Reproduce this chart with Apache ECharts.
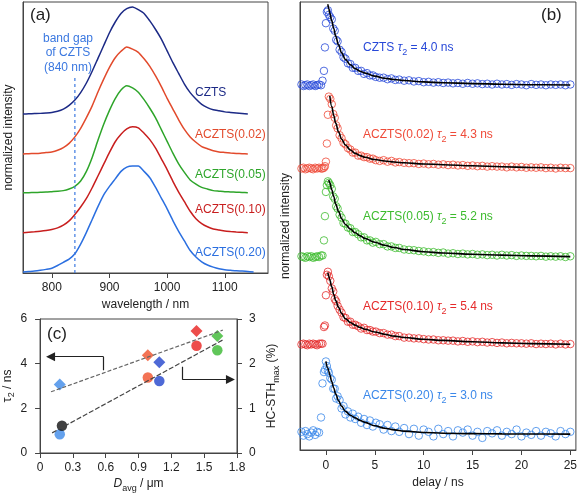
<!DOCTYPE html>
<html><head><meta charset="utf-8">
<script src="https://cdn.jsdelivr.net/npm/echarts@6/dist/echarts.min.js"></script>
<style>html,body{margin:0;padding:0;background:#fff}#c{width:580px;height:494px}</style>
</head><body><div id="c"></div>
<script>
// ================= DATA =================
// Panel (a): PL spectra (normalized)
const wavelengths = [750,760,770,780,790,800,810,820,830,840,850,860,870,880,890,900,910,920,930,940,950,960,970,980,990,1000,1010,1020,1030,1040,1050,1060,1070,1080,1090,1100,1110,1120,1130,1140,1150];
const plCZTS = [0,0.002,0.004,0.006,0.01,0.015,0.025,0.045,0.08,0.13,0.20,0.29,0.40,0.52,0.64,0.76,0.86,0.94,0.985,1.00,0.975,0.94,0.87,0.79,0.70,0.59,0.48,0.38,0.28,0.20,0.14,0.09,0.06,0.04,0.03,0.02,0.015,0.01,0.005,0,null];
const plA002 = [0,0.003,0.005,0.008,0.014,0.02,0.035,0.06,0.10,0.16,0.24,0.34,0.45,0.58,0.70,0.81,0.90,0.96,1.00,0.98,0.95,0.89,0.82,0.73,0.63,0.52,0.42,0.32,0.23,0.16,0.11,0.07,0.05,0.03,0.02,0.015,0.01,0.006,0.003,0,null];
const plA005 = [0,0.001,0.002,0.004,0.006,0.01,0.014,0.02,0.035,0.06,0.11,0.20,0.33,0.49,0.64,0.77,0.88,0.96,1.00,0.98,0.94,0.87,0.79,0.70,0.59,0.48,0.37,0.27,0.19,0.12,0.08,0.05,0.035,0.02,0.015,0.01,0.008,0.005,0.003,0,null];
const plA010 = [0,0.004,0.008,0.013,0.02,0.03,0.045,0.07,0.11,0.17,0.24,0.32,0.42,0.53,0.64,0.75,0.85,0.92,0.97,0.99,0.98,0.93,0.87,0.79,0.69,0.59,0.48,0.38,0.29,0.20,0.13,0.085,0.055,0.035,0.025,0.015,0.01,0.006,0.003,0,null];
const plA020 = [0,0.004,0.008,0.015,0.024,0.035,0.06,0.09,0.12,0.17,0.26,0.37,0.49,0.61,0.72,0.80,0.87,0.94,0.98,0.99,0.99,0.94,0.88,0.79,0.69,0.59,0.48,0.38,0.29,0.20,0.14,0.095,0.065,0.045,0.03,0.02,0.015,0.01,0.008,0.005,0];
const sampleNames = ['CZTS','ACZTS(0.02)','ACZTS(0.05)','ACZTS(0.10)','ACZTS(0.20)'];
const wavelengthTicks = [800,900,1000,1100];
const bandGapNm = 840;
const bandGapTop = 1.825;

// Panel (b): TRMC decays (normalized)
const delayTimes = [-2.5,-2.3,-2.1,-1.9,-1.7,-1.5,-1.3,-1.1,-0.9,-0.7,-0.5,
 -0.35,-0.2,-0.1,0,0.1,0.2,0.3,
 0.45,0.6,0.75,0.9,1.05,1.2,
 1.4,1.6,1.8,2.0,
 2.25,2.5,2.75,3.0,
 3.3,3.6,3.9,4.2,4.5,4.8,5.1,
 5.5,5.9,6.3,6.7,7.1,7.5,
 8,8.5,9,9.5,10,10.5,11,11.5,12,12.5,13,13.5,14,14.5,15,15.5,16,16.5,17,17.5,18,18.5,19,19.5,20,20.5,21,21.5,22,22.5,23,23.5,24,24.5,25];
const trCZTS = [0.01,-0.01,0.0,0.01,-0.01,0.0,0.01,-0.01,0.0,0.01,0.0,
 0.06,0.19,0.5,0.82,0.97,0.99,0.93,
 0.9,0.87,0.75,0.72,0.6,0.58,
 0.47,0.44,0.37,0.35,
 0.29,0.28,0.23,0.23,
 0.19,0.19,0.15,0.16,0.13,0.13,0.11,
 0.1,0.1,0.08,0.09,0.07,0.075,
 0.06,0.065,0.05,0.055,0.04,0.045,0.035,0.04,0.03,0.035,0.025,0.03,0.02,0.03,0.02,0.025,0.015,0.02,0.01,0.02,0.01,0.015,0.005,0.015,0.01,0.0,0.015,0.005,0.01,0.0,0.01,0.005,0.01,0.0,0.01];
const trA002 = [0.0,0.01,-0.01,0.0,0.01,0.0,-0.01,0.01,0.0,0.01,0.0,
 0.0,0.01,0.03,0.09,0.33,0.71,0.95,
 0.92,0.85,0.72,0.67,0.57,0.53,
 0.44,0.4,0.34,0.32,
 0.27,0.25,0.21,0.21,
 0.17,0.17,0.15,0.15,0.13,0.13,0.11,
 0.1,0.11,0.09,0.1,0.08,0.085,
 0.075,0.07,0.07,0.06,0.065,0.055,0.06,0.05,0.055,0.045,0.05,0.04,0.045,0.035,0.04,0.03,0.035,0.025,0.03,0.025,0.025,0.015,0.025,0.015,0.02,0.01,0.015,0.01,0.015,0.005,0.01,0.0,0.01,0.005,0.005];
const trA005 = [0.01,0.0,-0.01,0.01,0.0,0.01,-0.01,0.0,0.01,0.0,0.02,
 0.02,0.22,0.54,0.86,0.95,1.0,0.98,
 0.95,0.9,0.8,0.77,0.67,0.64,
 0.56,0.52,0.45,0.44,
 0.39,0.38,0.33,0.33,
 0.3,0.26,0.26,0.22,0.22,0.19,0.2,
 0.17,0.17,0.14,0.14,0.12,0.12,
 0.1,0.095,0.09,0.08,0.075,0.065,0.065,0.055,0.06,0.045,0.05,0.04,0.045,0.035,0.04,0.03,0.035,0.025,0.03,0.02,0.03,0.02,0.025,0.015,0.02,0.015,0.015,0.01,0.015,0.005,0.01,0.005,0.01,0.0,0.01];
const trA010 = [0.0,0.01,0.0,-0.01,0.01,0.0,0.01,0.0,-0.01,0.01,0.01,
 0.01,0.23,0.25,0.65,0.92,0.96,0.9,
 0.84,0.74,0.7,0.6,0.57,0.51,
 0.46,0.42,0.36,0.35,
 0.3,0.3,0.26,0.26,
 0.24,0.21,0.22,0.19,0.19,0.17,0.17,
 0.15,0.15,0.13,0.13,0.11,0.11,
 0.09,0.09,0.08,0.08,0.07,0.065,0.065,0.055,0.055,0.05,0.05,0.04,0.045,0.035,0.04,0.03,0.035,0.025,0.03,0.02,0.025,0.015,0.02,0.015,0.015,0.01,0.015,0.005,0.01,0.005,0.01,0.0,0.01,0.0,0.005];
const trA020 = [0.03,-0.02,0.04,0.0,-0.03,0.02,0.05,-0.01,0.03,0.02,0.22,
 0.67,0.82,0.85,0.96,0.9,0.84,0.81,
 0.74,0.72,0.6,0.6,0.47,0.5,
 0.45,0.34,0.37,0.26,
 0.3,0.22,0.27,0.2,
 0.23,0.15,0.2,0.12,0.18,0.1,0.15,
 0.13,0.06,0.12,0.04,0.1,0.03,
 0.08,0.0,0.07,-0.02,0.06,0.03,-0.03,0.07,0.0,0.04,-0.03,0.05,0.02,0.06,-0.02,0.03,-0.05,0.04,0.01,0.05,-0.02,0.03,0.0,0.06,-0.03,0.02,-0.01,0.04,-0.02,0.03,0.01,-0.03,0.04,0.0,0.03];
const fitTimes = [0,0.2,0.3,0.4,0.6,0.8,1.0,1.3,1.6,2.0,2.5,3.0,3.5,4,5,6,7,8,10,12,15,18,21,25];
const fitCZTS = [null,1.07,1.01,0.95,0.85,0.75,0.65,0.53,0.43,0.34,0.27,0.22,0.185,0.16,0.12,0.093,0.075,0.062,0.044,0.033,0.022,0.013,0.007,0.003];
const fitA002 = [null,null,null,0.96,0.82,0.70,0.60,0.48,0.39,0.31,0.245,0.2,0.17,0.148,0.118,0.098,0.085,0.075,0.06,0.05,0.036,0.023,0.013,0.004];
const fitA005 = [null,null,1.02,0.98,0.89,0.8,0.7,0.6,0.51,0.43,0.37,0.32,0.28,0.245,0.195,0.155,0.125,0.1,0.07,0.053,0.037,0.025,0.015,0.005];
const fitA010 = [null,0.95,0.9,0.85,0.76,0.66,0.58,0.49,0.41,0.34,0.29,0.255,0.225,0.2,0.165,0.135,0.11,0.092,0.068,0.053,0.035,0.021,0.011,0.003];
const fitA020 = [0.96,0.87,0.83,0.78,0.69,0.61,0.53,0.44,0.37,0.3,0.25,0.215,0.18,0.155,0.11,0.078,0.056,0.04,0.022,0.012,0.006,0.003,0.001,0];
const tau2Text = ['4.0','4.3','5.2','5.4','3.0'];
const delayTicks = [0,5,10,15,20,25];

// Panel (c)
const dAvgTau = [0.18,0.985,1.09,1.43,1.62];
const tau2Vals = [3.07,4.38,4.06,5.46,5.24];
const dAvgHC = [0.18,0.20,0.985,1.09,1.43,1.62];
const hcSthVals = [0.42,0.61,1.69,1.61,2.40,2.30];
const tauFitLine = [[0.10,2.74],[1.67,5.5]];
const hcFitLine = [[0.11,0.45],[1.67,2.53]];
const arrowLeft = [[0.58,3.71],[0.58,4.31],[0.096,4.31]];
const arrowRight = [[1.30,3.86],[1.30,3.29],[1.74,3.29]];

// ================= STYLE / LAYOUT =================
const FONT = "'Liberation Sans', Arial, sans-serif";
const AX = '#444', TXT = '#222';
const specColors = ['#1c2a86','#e24a2c','#2ea52a','#c81e1e','#2b6fe0'];
const specOffsets = [1.486,1.112,0.75,0.377,0.01];
const specLabelY = [93,135,175,210,253];
const trColors = ['#2748d8','#ef4a38','#3dbb2e','#e52a2a','#3b88ea'];
const trOffsets = [4.82,3.72,2.55,1.395,0.21];
const trLabelY = [48,135,217,307,396];
const tauColors = ['#3d8ae8','#f0502a','#2244cc','#e8201e','#38b830'];
const hcColors = ['#3d8ae8','#111111','#f0502a','#2244cc','#e8201e','#38b830'];

const specData = [plCZTS,plA002,plA005,plA010,plA020];
const trData = [trCZTS,trA002,trA005,trA010,trA020];
const fitData = [fitCZTS,fitA002,fitA005,fitA010,fitA020];

const series = [];
specData.forEach((arr,i)=>{
  const d=[]; wavelengths.forEach((w,j)=>{ if(arr[j]!==null) d.push([w,arr[j]+specOffsets[i]]); });
  series.push({type:'line',xAxisIndex:0,yAxisIndex:0,showSymbol:false,smooth:0.2,
    data:d,lineStyle:{color:specColors[i],width:1.5},silent:true});
});
series.push({type:'line',xAxisIndex:0,yAxisIndex:0,showSymbol:false,
  data:[[bandGapNm,0],[bandGapNm,bandGapTop]],lineStyle:{color:'#3b78e0',width:1.2,type:[3,3]},silent:true});

trData.forEach((arr,i)=>{
  series.push({type:'scatter',xAxisIndex:1,yAxisIndex:1,symbol:'circle',symbolSize:7.5,
    data:delayTimes.map((t,j)=>[t,arr[j]+trOffsets[i]]),
    itemStyle:{color:'rgba(255,255,255,0)',borderColor:trColors[i],borderWidth:1},silent:true});
});
fitData.forEach((arr,i)=>{
  const d=[]; fitTimes.forEach((t,j)=>{ if(arr[j]!==null) d.push([t,arr[j]+trOffsets[i]]); });
  series.push({type:'line',xAxisIndex:1,yAxisIndex:1,showSymbol:false,smooth:0.4,smoothMonotone:'x',
    data:d,lineStyle:{color:'#000',width:1.6},silent:true});
});

series.push({type:'line',xAxisIndex:2,yAxisIndex:2,showSymbol:false,data:tauFitLine,
  lineStyle:{color:'#666',width:1.2,type:[4,2]},silent:true});
series.push({type:'line',xAxisIndex:2,yAxisIndex:3,showSymbol:false,data:hcFitLine,
  lineStyle:{color:'#444',width:1.2,type:[5,2]},silent:true});
series.push({type:'scatter',xAxisIndex:2,yAxisIndex:2,symbol:'diamond',symbolSize:12,
  data:dAvgTau.map((d,i)=>({value:[d,tau2Vals[i]],itemStyle:{color:tauColors[i]}})),silent:true});
series.push({type:'scatter',xAxisIndex:2,yAxisIndex:3,symbol:'circle',symbolSize:10.5,
  data:dAvgHC.map((d,i)=>({value:[d,hcSthVals[i]],itemStyle:{color:hcColors[i]}})),silent:true});
series.push({type:'lines',coordinateSystem:'cartesian2d',xAxisIndex:2,yAxisIndex:2,symbol:'none',
  lineStyle:{color:'#222',width:1.2,opacity:1,curveness:0},
  data:[{coords:[arrowLeft[0],arrowLeft[1]]},{coords:[arrowRight[0],arrowRight[1]]}],silent:true});
series.push({type:'lines',coordinateSystem:'cartesian2d',xAxisIndex:2,yAxisIndex:2,symbol:['none','triangle'],symbolSize:9,
  lineStyle:{color:'#222',width:1.2,opacity:1,curveness:0},
  data:[{coords:[arrowLeft[1],arrowLeft[2]]},{coords:[arrowRight[1],arrowRight[2]]}],silent:true});

const lbl = {fontFamily:FONT,fontSize:12,color:TXT};
const nameStyle = {fontFamily:FONT,fontSize:12,color:TXT};
function xAx(grid,min,max,extra){
  return Object.assign({type:'value',gridIndex:grid,min,max,
    axisLine:{show:true,onZero:false,lineStyle:{color:AX}},
    axisTick:{show:true,inside:false,length:5,lineStyle:{color:AX}},
    splitLine:{show:false},nameLocation:'middle',nameTextStyle:nameStyle},extra);
}
const option = {
  animation:false,
  grid:[
    {left:23,top:2,width:245,height:271,show:true,borderColor:AX,borderWidth:1},
    {left:300,top:2,width:277,height:450,show:true,borderColor:AX,borderWidth:1},
    {left:38,top:319,width:199,height:134,show:true,borderColor:AX,borderWidth:1}
  ],
  xAxis:[
    xAx(0,750,1175,{axisTick:{show:true,length:5,lineStyle:{color:AX},customValues:wavelengthTicks},
      axisLabel:Object.assign({customValues:wavelengthTicks,margin:9,formatter:v=>String(v)},lbl),name:'wavelength / nm',nameGap:24}),
    xAx(1,-2.65,25.57,{axisTick:{show:true,length:5,lineStyle:{color:AX},customValues:delayTicks},
      axisLabel:Object.assign({customValues:delayTicks,margin:10,formatter:v=>String(v)},lbl),name:'delay / ns',nameGap:27}),
    xAx(2,0,1.8,{interval:0.3,axisLabel:Object.assign({margin:9,formatter:v=>v===0?'0':v.toFixed(1)},lbl),
      name:'{i|D}{s|avg}{n| / μm}',nameGap:22,
      nameTextStyle:{rich:{i:{fontFamily:FONT,fontSize:12,fontStyle:'italic',color:TXT,lineHeight:18},
        s:{fontFamily:FONT,fontSize:9,color:TXT,verticalAlign:'bottom',lineHeight:18},
        n:{fontFamily:FONT,fontSize:12,color:TXT,lineHeight:18}}}})
  ],
  yAxis:[
    {type:'value',gridIndex:0,min:0,max:2.533,axisLine:{show:true,onZero:false,lineStyle:{color:AX}},axisTick:{show:false},
      axisLabel:{show:false},splitLine:{show:false},name:'normalized intensity',nameLocation:'middle',nameGap:8,nameRotate:90,nameTextStyle:nameStyle},
    {type:'value',gridIndex:1,min:0,max:5.92,axisLine:{show:true,onZero:false,lineStyle:{color:AX}},axisTick:{show:false},
      axisLabel:{show:false},splitLine:{show:false},name:'normalized intensity',nameLocation:'middle',nameGap:8,nameRotate:90,nameTextStyle:nameStyle},
    {type:'value',gridIndex:2,min:0,max:6,interval:2,position:'left',axisLine:{show:true,onZero:false,lineStyle:{color:AX}},
      axisTick:{show:true,length:5,lineStyle:{color:AX}},axisLabel:Object.assign({margin:13},lbl),splitLine:{show:false},
      name:'{t|τ}{s|2}{n| / ns}',nameLocation:'middle',nameGap:18,nameRotate:90,
      nameTextStyle:{rich:{t:{fontFamily:FONT,fontSize:13,color:TXT,lineHeight:18},s:{fontFamily:FONT,fontSize:9,color:TXT,verticalAlign:'bottom',lineHeight:18},n:{fontFamily:FONT,fontSize:12,color:TXT,lineHeight:18}}}},
    {type:'value',gridIndex:2,min:0,max:3,interval:1,position:'right',axisLine:{show:true,onZero:false,lineStyle:{color:AX}},
      axisTick:{show:true,length:5,lineStyle:{color:AX}},axisLabel:Object.assign({margin:12},lbl),splitLine:{show:false},
      name:'{n|HC-STH}{s|max}{n| (%)}',nameLocation:'middle',nameGap:26,nameRotate:90,
      nameTextStyle:{rich:{s:{fontFamily:FONT,fontSize:9,color:TXT,verticalAlign:'bottom',lineHeight:18},n:{fontFamily:FONT,fontSize:12,color:TXT,lineHeight:18}}}}
  ],
  series,
  graphic:[]
};
const G = option.graphic;
G.push({type:'text',x:30,y:15,style:{text:'(a)',font:"17px "+FONT,fill:TXT,align:'left',verticalAlign:'middle'}});
G.push({type:'text',x:541,y:15,style:{text:'(b)',font:"17px "+FONT,fill:TXT,align:'left',verticalAlign:'middle'}});
G.push({type:'text',x:47,y:334,style:{text:'(c)',font:"17px "+FONT,fill:TXT,align:'left',verticalAlign:'middle'}});
G.push({type:'text',x:68,y:53,style:{text:'band gap\nof CZTS\n(' + bandGapNm + ' nm)',font:"12px "+FONT,fill:'#3b78e0',align:'center',verticalAlign:'middle',lineHeight:14.5}});
sampleNames.forEach((n,i)=>{
  G.push({type:'text',x:195,y:specLabelY[i],style:{text:n,font:"12px "+FONT,fill:specColors[i],align:'left',verticalAlign:'middle'}});
  G.push({type:'text',x:363,y:trLabelY[i],style:{
    text:'{n|'+n+' }{t|τ}{s|2}{n| = '+tau2Text[i]+' ns}',align:'left',verticalAlign:'middle',
    rich:{n:{fontSize:12,fontFamily:FONT,fill:trColors[i],lineHeight:18},
      t:{fontSize:12,fontFamily:FONT,fontStyle:'italic',fill:trColors[i],lineHeight:18},
      s:{fontSize:9,fontFamily:FONT,fill:trColors[i],verticalAlign:'bottom',lineHeight:18}}}});
});
const chart = echarts.init(document.getElementById('c'));
chart.setOption(option);
</script></body></html>
